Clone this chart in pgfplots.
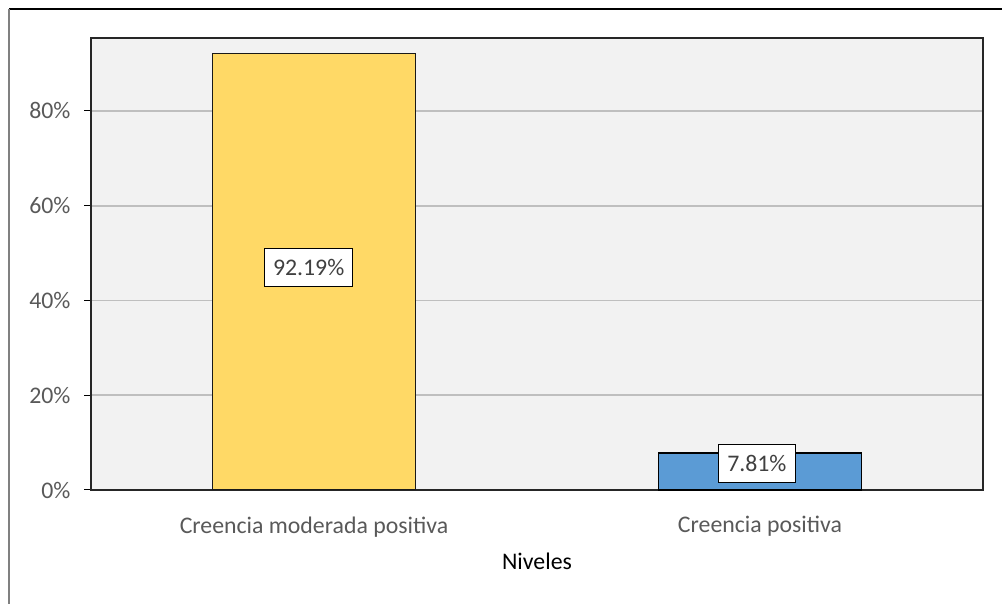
\documentclass[border=0pt]{standalone}
\usepackage{pgfplots}
\pgfplotsset{compat=1.18}
\usepackage{fontspec}
\setmainfont{Carlito}
\definecolor{bgcol}{HTML}{F2F2F2}
\definecolor{gridcol}{HTML}{BFBFBF}
\definecolor{txtcol}{HTML}{595959}
\definecolor{lblcol}{HTML}{404040}
\definecolor{yel}{HTML}{FFD966}
\definecolor{blu}{HTML}{5B9BD5}
\begin{document}
\begin{tikzpicture}[x=1bp,y=1bp]
\path[use as bounding box] (0,0) rectangle (1002,604);
\draw[black, line width=1.2bp] (9,595) -- (1002,595);
\draw[gray, line width=1.6bp] (9,595) -- (9,0);
\begin{axis}[
  at={(91bp,114bp)}, anchor=south west,
  scale only axis, width=892bp, height=452bp,
  xmin=-0.5, xmax=1.5, ymin=0, ymax=95.4,
  xtick={0,1}, xticklabels={Creencia moderada positiva, Creencia positiva},
  ytick={0,20,40,60,80},
  ytick pos=left,
  yticklabel={\pgfmathprintnumber{\tick}\%},
  /pgf/number format/assume math mode=true,
  font=\fontsize{23.8bp}{28bp}\selectfont,
  ticklabel style={text=txtcol},
  xtick style={draw=none},
  ytick style={draw=black, line width=1bp},
  tick align=outside, major tick length=7bp,
  ymajorgrids, grid style={gridcol, line width=1.6bp},
  axis background/.style={fill=bgcol},
  axis line style={draw=black!85, line width=1.4bp},
  xticklabel style={yshift=-16bp},
  yticklabel style={xshift=-10bp},
  xlabel={Niveles},
  xlabel style={text=black, yshift=-9bp},
  clip=false,
]
\addplot[ybar, bar shift=0pt, bar width=203bp, fill=yel, draw=black!90, line width=1bp] coordinates {(0,92.19)};
\addplot[ybar, bar shift=0pt, bar width=203bp, fill=blu, draw=black, line width=1.6bp] coordinates {(1,7.81)};
\addplot[draw=none, mark=none, nodes near coords, point meta=explicit symbolic,
  every node near coord/.append style={anchor=center, fill=white, draw=black, line width=0.9bp,
    text=lblcol, inner xsep=8.5bp, inner ysep=0pt, minimum height=38bp, text depth=0pt}]
  coordinates {(-0.012,46.9) [92.19\%] (0.993,5.7) [7.81\%]};
\end{axis}
\end{tikzpicture}
\end{document}
